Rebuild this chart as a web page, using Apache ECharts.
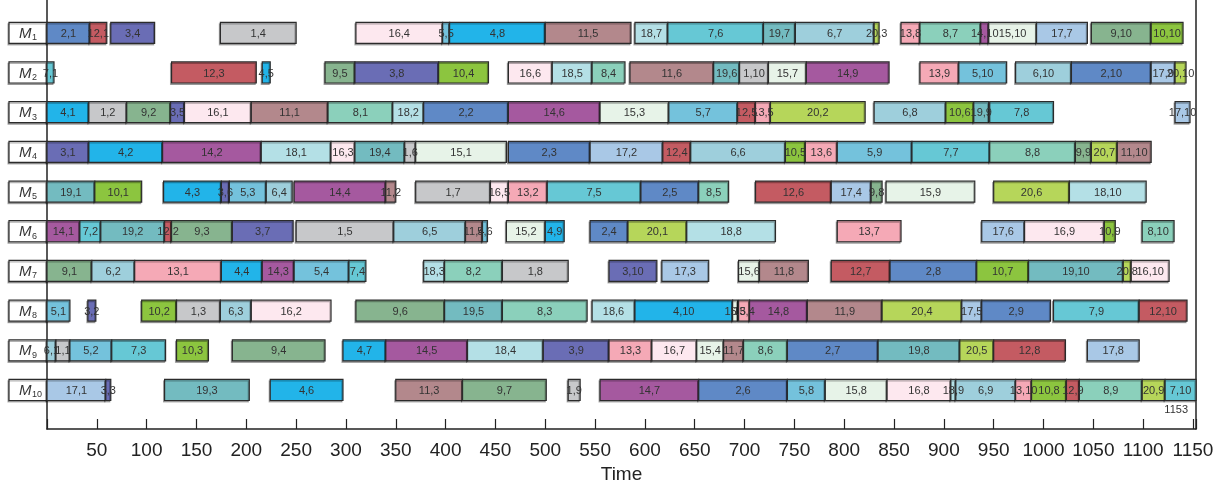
<!DOCTYPE html>
<html><head><meta charset="utf-8">
<script src="https://cdn.jsdelivr.net/npm/echarts@6/dist/echarts.min.js"></script>
<style>html,body{margin:0;padding:0;background:#fff}#c{width:1228px;height:493px}</style>
</head><body><div id="c"></div>
<script>
// [job, operation, start, end]
const m1 = [[2,1,0,43],[12,1,43,60],[3,4,64,108],[1,4,174,250],[16,4,310,397],[5,5,397,404],[4,8,404,500],[11,5,500,586],[18,7,590,623],[7,6,623,719],[19,7,719,751],[6,7,751,830],[20,3,830,835],[13,8,857,876],[8,7,876,937],[14,10,937,945],[15,10,945,993],[17,7,993,1044],[9,10,1048,1108],[10,10,1108,1140]];
const m2 = [[7,1,0,7],[12,3,125,210],[4,5,216,224],[9,5,279,309],[3,8,309,393],[10,4,393,443],[16,6,463,507],[18,5,507,547],[8,4,547,580],[11,6,585,669],[19,6,669,695],[1,10,695,724],[15,7,724,762],[14,9,762,845],[13,9,876,915],[5,10,915,963],[6,10,972,1028],[2,10,1028,1108],[17,9,1108,1132],[20,10,1132,1143]];
const m3 = [[4,1,0,42],[1,2,42,80],[9,2,80,124],[3,5,124,138],[16,1,138,205],[11,1,205,282],[8,1,282,347],[18,2,347,378],[2,2,378,463],[14,6,463,555],[15,3,555,624],[5,7,624,693],[12,5,693,711],[13,5,711,726],[20,2,726,821],[6,8,830,902],[10,6,902,930],[19,9,930,945],[7,8,946,1010],[17,10,1132,1147]];
const m4 = [[3,1,0,42],[4,2,42,116],[14,2,116,215],[18,1,215,285],[16,3,285,309],[19,4,309,359],[1,6,359,370],[15,1,370,461],[2,3,463,545],[17,2,545,618],[12,4,618,646],[6,6,646,741],[10,5,741,761],[13,6,761,793],[5,9,793,868],[7,7,868,946],[8,8,946,1032],[9,9,1032,1048],[20,7,1048,1074],[11,10,1074,1108]];
const m5 = [[19,1,0,48],[10,1,48,95],[4,3,117,175],[3,6,175,183],[5,3,183,220],[6,4,220,246],[14,4,248,340],[11,2,340,350],[1,7,370,445],[16,5,445,463],[13,2,463,502],[7,5,502,596],[2,5,596,654],[8,5,654,684],[12,6,711,787],[17,4,787,827],[9,8,827,838],[15,9,842,931],[20,6,950,1026],[18,10,1026,1103]];
const m6 = [[14,1,0,33],[7,2,33,54],[19,2,54,118],[12,2,118,125],[9,3,125,186],[3,7,186,247],[1,5,250,348],[6,5,348,420],[11,4,420,437],[5,6,437,442],[15,2,461,500],[4,9,500,519],[2,4,545,583],[20,1,583,642],[18,8,642,731],[13,7,793,857],[17,6,938,981],[16,9,981,1061],[10,9,1061,1072],[8,10,1099,1131]];
const m7 = [[9,1,0,45],[6,2,45,88],[13,1,88,175],[4,4,175,216],[14,3,216,248],[5,4,248,303],[7,4,303,320],[18,3,378,399],[8,2,399,457],[1,8,457,523],[3,10,564,612],[17,3,617,664],[15,6,694,715],[11,8,715,764],[12,7,787,846],[2,8,846,933],[10,7,933,985],[19,10,985,1080],[20,8,1080,1088],[16,10,1088,1126]];
const m8 = [[5,1,0,23],[3,2,41,49],[10,2,95,130],[1,3,130,174],[6,3,174,205],[16,2,205,285],[9,6,310,399],[19,5,399,457],[8,3,457,542],[18,6,547,590],[4,10,590,688],[15,5,688,693],[13,4,694,705],[14,8,705,763],[11,9,763,838],[20,4,838,918],[17,5,918,938],[2,9,938,1007],[7,9,1010,1096],[12,10,1096,1144]];
const m9 = [[6,1,0,9],[1,1,9,23],[5,2,23,65],[7,3,65,119],[10,3,130,162],[9,4,186,279],[4,7,297,340],[14,5,340,422],[18,4,422,498],[3,9,498,564],[13,3,564,607],[16,7,607,652],[15,4,652,679],[11,7,679,699],[8,6,699,743],[2,7,743,834],[19,8,834,916],[20,5,916,950],[12,8,950,1022],[17,8,1044,1096]];
const m10 = [[17,1,0,59],[3,3,59,64],[19,3,118,203],[4,6,224,297],[11,3,350,417],[9,7,417,501],[1,9,523,535],[14,7,555,654],[2,6,654,743],[5,8,743,781],[15,8,781,843],[16,8,843,907],[18,9,907,912],[6,9,912,972],[13,10,972,988],[10,8,988,1023],[12,9,1023,1036],[8,9,1036,1099],[20,9,1099,1122],[7,10,1122,1153]];
const machines = [m1,m2,m3,m4,m5,m6,m7,m8,m9,m10];
const machineNames = ['1','2','3','4','5','6','7','8','9','10'];
const makespan = 1153;
const xTicks = {min:0, max:1153, interval:50};

const jobColors = ['#c7c8ca','#5f89c6','#6a6db5','#22b4e9','#74c2dc','#9ecfdc','#66c8d5','#8bd0bb','#87b48f','#8cc53f',
                   '#b3888c','#c45b62','#f5a9b6','#a5599f','#e7f3e8','#fde8ef','#a9c8e6','#b4e0e6','#73bbc0','#b6d65a'];

const BAR_H = 0.53;
const data = [];
machines.forEach((m, i) => m.forEach(o => data.push([i+1, o[2], o[3], o[0], o[1]])));

const chart = echarts.init(document.getElementById('c'), null, {renderer:'canvas'});
const FONT = "'Liberation Sans', Arial, sans-serif";
const yMin = 0.1736, yMax = 10.983;

chart.setOption({
  animation:false,
  grid:{left:47, right:32, top:0, bottom:64},
  xAxis:{type:'value', min:xTicks.min, max:xTicks.max, interval:xTicks.interval, position:'bottom',
    name:'Time', nameLocation:'middle', nameGap:36,
    nameTextStyle:{fontSize:19, color:'#222', fontFamily:FONT},
    axisLine:{onZero:false, lineStyle:{color:'#222', width:1.5}},
    axisTick:{inside:true, length:10, lineStyle:{color:'#222', width:1.2}},
    axisLabel:{margin:12, fontSize:19, color:'#222', fontFamily:FONT, showMinLabel:true, showMaxLabel:true,
      formatter: v => (v > 0 && v % 50 === 0) ? String(v) : ''},
    splitLine:{show:false}},
  yAxis:[
    {type:'value', inverse:true, min:yMin, max:yMax, axisLine:{show:true, onZero:false, lineStyle:{color:'#222', width:1.5}},
     axisTick:{show:false}, axisLabel:{show:false}, splitLine:{show:false}},
    {type:'value', inverse:true, min:yMin, max:yMax, position:'right', axisLine:{show:true, onZero:false, lineStyle:{color:'#222', width:1.5}},
     axisTick:{show:false}, axisLabel:{show:false}, splitLine:{show:false}}
  ],
  series:[
    {type:'custom', clip:false, encode:{x:0, y:0}, data:machineNames.map((n,i)=>[i+1]), z:1,
     renderItem:(params, api) => {
       const row = api.value(0);
       const p = api.coord([0,row]);
       const h = api.size([0, BAR_H])[1];
       const w = 38;
       return {type:'group', children:[
         {type:'rect', shape:{x:p[0]-w, y:p[1]-h/2, width:w, height:h},
          style:{fill:'#fff', stroke:'#2b2b2b', lineWidth:1.2, shadowColor:'rgba(0,0,0,0.3)', shadowBlur:0, shadowOffsetX:-1, shadowOffsetY:1.5}},
         {type:'text', x:p[0]-w+10, y:p[1]+1, style:{text:'M', font:'italic 15px '+FONT, fill:'#333', verticalAlign:'middle', textAlign:'left'}},
         {type:'text', x:p[0]-w+23, y:p[1]+5, style:{text:machineNames[params.dataIndex], font:'9px '+FONT, fill:'#333', verticalAlign:'middle', textAlign:'left'}}
       ]};
     }},
    {type:'custom', clip:false, encode:{x:[1,2], y:0}, data:data, z:2,
     renderItem:(params, api) => {
       const row = api.value(0), s = api.value(1), e = api.value(2), job = api.value(3);
       const p0 = api.coord([s,row]), p1 = api.coord([e,row]);
       const h = api.size([0, BAR_H])[1];
       return {type:'rect', shape:{x:p0[0], y:p0[1]-h/2, width:p1[0]-p0[0], height:h},
         style:{fill:jobColors[job-1], stroke:'#2b2b2b', lineWidth:1.2,
                shadowColor:'rgba(0,0,0,0.3)', shadowBlur:0, shadowOffsetX:-1, shadowOffsetY:1.5}};
     }},
    {type:'custom', clip:false, encode:{x:[1,2], y:0}, data:data, z:4, silent:true,
     renderItem:(params, api) => {
       const row = api.value(0), s = api.value(1), e = api.value(2), job = api.value(3), op = api.value(4);
       const p = api.coord([(s+e)/2,row]);
       return {type:'text', x:p[0], y:p[1]+1,
         style:{text:job+','+op, fill:'#333', font:'11px '+FONT, textAlign:'center', verticalAlign:'middle'}};
     }},
    {type:'custom', clip:false, encode:{x:0, y:1}, data:[[makespan, 10.5]], z:4,
     renderItem:(params, api) => {
       const p = api.coord([api.value(0), api.value(1)]);
       return {type:'text', x:p[0]-8, y:p[1], style:{text:String(makespan), font:'11px '+FONT, fill:'#333', textAlign:'right', verticalAlign:'middle'}};
     }}
  ]
});
</script></body></html>
